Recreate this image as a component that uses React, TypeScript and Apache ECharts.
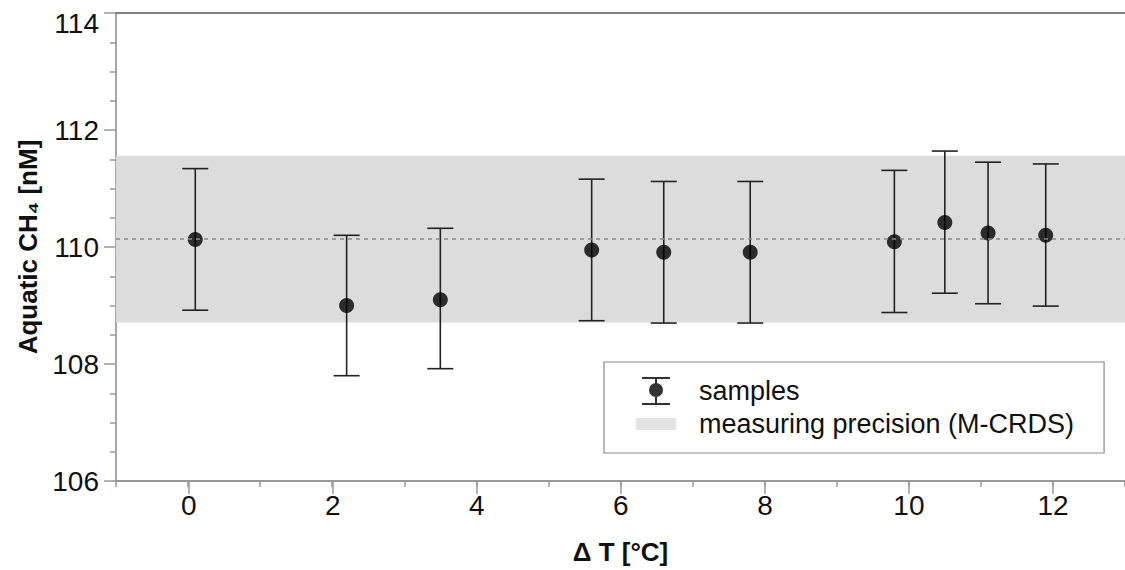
import React, { useEffect, useRef } from "react";
import * as echarts from "echarts";

// ---- data ----
const deltaT = [0.1, 2.2, 3.5, 5.6, 6.6, 7.8, 9.8, 10.5, 11.1, 11.9];
const ch4Mean = [110.13, 109.0, 109.1, 109.95, 109.91, 109.91, 110.09, 110.42, 110.24, 110.2];
const ch4Upper = [111.34, 110.2, 110.32, 111.16, 111.12, 111.12, 111.31, 111.64, 111.45, 111.42];
const ch4Lower = [108.92, 107.8, 107.92, 108.74, 108.7, 108.7, 108.88, 109.21, 109.03, 108.99];
const precisionLow = 108.71;
const precisionHigh = 111.56;
const precisionMean = 110.135;

const seriesSamples = "samples";
const seriesPrecision = "measuring precision (M-CRDS)";
const xTitle = "Δ T [°C]";
const yTitle = "Aquatic CH₄ [nM]";

const yMin = 106;
const yMax = 114;
const yStep = 2;
const xMin = -1;
const xMax = 13;

const FONT = "'Liberation Sans', Arial, Helvetica, sans-serif";

export default function App() {
  const ref = useRef<HTMLDivElement>(null);

  useEffect(() => {
    if (!ref.current) return;
    const chart = echarts.init(ref.current, undefined, { renderer: "svg" });

    const W = 1125;
    const gLeft = 116;
    const gRight = -10;
    const gTop = 13;
    const gBottom = 88;
    const plotW = W - gRight - gLeft;
    const unit = plotW / (xMax - xMin);
    const grid1Left = gLeft + (0 - xMin) * unit;

    const scatterData = deltaT.map((x, i) => [x, ch4Mean[i]]);
    const errData = deltaT.map((x, i) => [x, ch4Lower[i], ch4Upper[i]]);

    const samplesIcon =
      "path://M0,0 M58,30 M6,1h28v2h-28z M6,27h28v2h-28z M19,2h2v26h-2z M13,14a7,7 0 1,1 14,0a7,7 0 1,1 -14,0z";
    const precisionIcon = "path://M0,0 M58,30 M0,9h40v12h-40z";

    const option: any = {
      animation: false,
      backgroundColor: "#ffffff",
      textStyle: { fontFamily: FONT },
      grid: [
        { left: gLeft, right: gRight, top: gTop, bottom: gBottom, containLabel: false },
        { left: grid1Left, right: gRight, top: gTop, bottom: gBottom, containLabel: false },
      ],
      legend: {
        orient: "vertical",
        left: 604,
        top: 362,
        padding: [14, 30, 14, 32],
        itemGap: 3,
        itemWidth: 58,
        itemHeight: 30,
        borderColor: "#888",
        borderWidth: 1.2,
        backgroundColor: "#ffffff",
        selectedMode: false,
        textStyle: { fontSize: 27, color: "#111", fontFamily: FONT },
        data: [
          { name: seriesSamples, icon: samplesIcon },
          { name: seriesPrecision, icon: precisionIcon },
        ],
      },
      xAxis: [
        {
          gridIndex: 0,
          type: "value",
          min: xMin,
          max: xMax,
          interval: 1,
          position: "bottom",
          name: xTitle,
          nameLocation: "middle",
          nameGap: 58,
          nameTextStyle: { fontSize: 26, fontWeight: "bold", color: "#111", fontFamily: FONT },
          axisLine: { show: true, onZero: false, lineStyle: { color: "#777", width: 1.5 } },
          axisTick: { show: true, length: 6, lineStyle: { color: "#999", width: 1.5 } },
          axisLabel: { show: false },
          splitLine: { show: false },
        },
        {
          gridIndex: 1,
          type: "value",
          min: 0,
          max: xMax,
          interval: 2,
          position: "bottom",
          axisLine: { show: false },
          axisTick: { show: true, length: 12, lineStyle: { color: "#999", width: 1.5 } },
          axisLabel: {
            show: true,
            fontSize: 28,
            color: "#111",
            margin: 9,
            fontFamily: FONT,
            showMaxLabel: false,
          },
          splitLine: { show: false },
        },
        {
          gridIndex: 0,
          type: "value",
          min: xMin,
          max: xMax,
          position: "top",
          axisLine: { show: true, onZero: false, lineStyle: { color: "#555", width: 1.5 } },
          axisTick: { show: false },
          axisLabel: { show: false },
          splitLine: { show: false },
        },
      ],
      yAxis: [
        {
          gridIndex: 0,
          type: "value",
          min: yMin,
          max: yMax,
          interval: yStep,
          name: yTitle,
          nameLocation: "middle",
          nameGap: 74,
          nameRotate: 90,
          nameTextStyle: { fontSize: 26, fontWeight: "bold", color: "#111", fontFamily: FONT },
          axisLine: { show: true, onZero: false, lineStyle: { color: "#888", width: 1.5 } },
          axisTick: { show: true, length: 12, lineStyle: { color: "#999", width: 1.5 } },
          minorTick: { show: true, splitNumber: 4, length: 6, lineStyle: { color: "#999", width: 1.5 } },
          axisLabel: {
            fontSize: 28,
            color: "#111",
            margin: 17,
            fontFamily: FONT,
            formatter: (v: number) => (v === yMax ? "{top|" + v + "}" : String(v)),
            rich: {
              top: { fontSize: 28, color: "#111", fontFamily: FONT, padding: [20, 0, 0, 0] },
            },
          },
          splitLine: { show: false },
        },
        {
          gridIndex: 1,
          type: "value",
          min: yMin,
          max: yMax,
          show: false,
        },
      ],
      series: [
        {
          name: seriesPrecision,
          type: "scatter",
          xAxisIndex: 0,
          yAxisIndex: 0,
          data: [],
          itemStyle: { color: "#dcdcdc" },
          z: 1,
          markArea: {
            silent: true,
            itemStyle: { color: "#dcdcdc" },
            data: [[{ yAxis: precisionLow }, { yAxis: precisionHigh }]],
          },
          markLine: {
            silent: true,
            symbol: "none",
            label: { show: false },
            lineStyle: { color: "#888", width: 1.5, type: [4, 4] },
            data: [{ yAxis: precisionMean }],
          },
        },
        {
          name: "samples error",
          type: "custom",
          xAxisIndex: 0,
          yAxisIndex: 0,
          z: 3,
          dimensions: ["x", "lo", "hi"],
          encode: { x: 0, y: [1, 2] },
          data: errData,
          renderItem: (params: any, api: any) => {
            const x = api.value(0);
            const lo = api.value(1);
            const hi = api.value(2);
            const pLo = api.coord([x, lo]);
            const pHi = api.coord([x, hi]);
            const hw = 13;
            const style = { stroke: "#222", lineWidth: 1.6, fill: "none" };
            return {
              type: "group",
              children: [
                { type: "line", shape: { x1: pLo[0], y1: pLo[1], x2: pHi[0], y2: pHi[1] }, style },
                { type: "line", shape: { x1: pHi[0] - hw, y1: pHi[1], x2: pHi[0] + hw, y2: pHi[1] }, style },
                { type: "line", shape: { x1: pLo[0] - hw, y1: pLo[1], x2: pLo[0] + hw, y2: pLo[1] }, style },
              ],
            };
          },
        },
        {
          name: seriesSamples,
          type: "scatter",
          xAxisIndex: 0,
          yAxisIndex: 0,
          z: 4,
          symbol: "circle",
          symbolSize: 15,
          itemStyle: { color: "#000" },
          data: scatterData,
        },
      ],
    };

    chart.setOption(option);
    return () => chart.dispose();
  }, []);

  return (
    <div
      ref={ref}
      style={{ position: "fixed", left: 0, top: 0, width: 1125, height: 570, background: "#fff" }}
    />
  );
}
